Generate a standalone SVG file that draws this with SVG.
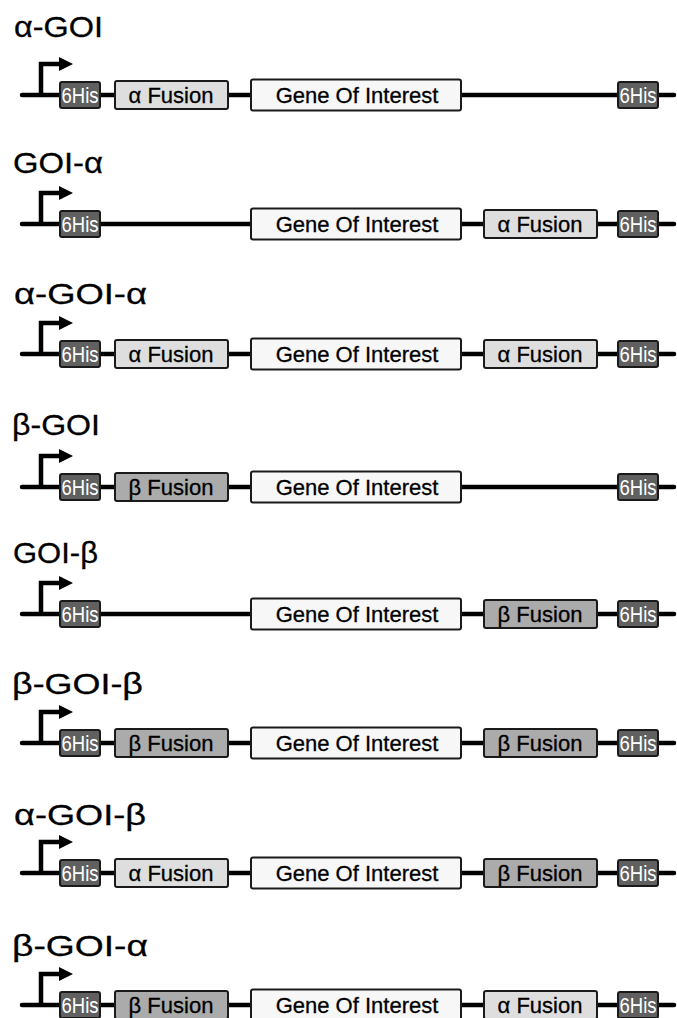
<svg xmlns="http://www.w3.org/2000/svg" xmlns:xlink="http://www.w3.org/1999/xlink" width="677" height="1018" viewBox="0 0 677 1018">
<style>
.bb{stroke:#000;stroke-width:4.5;stroke-linecap:round;fill:none}
.pr{stroke:#000;stroke-width:4.5;fill:none}
.ah{fill:#000}
.his{fill:#606060;stroke:#1a1a1a;stroke-width:2}
.af{fill:#dedede;stroke:#1a1a1a;stroke-width:2}
.bf{fill:#ababab;stroke:#1a1a1a;stroke-width:2}
.goi{fill:#f7f7f7;stroke:#1a1a1a;stroke-width:2}
.t{font-family:"Liberation Sans",Arial,sans-serif;fill:#000}
.title{font-size:30px;stroke:#000;stroke-width:0.3}
.bt{font-size:22px;text-anchor:middle;stroke:#000;stroke-width:0.3}
.ht{font-size:22px;text-anchor:middle;fill:#fff}
</style>
<defs>
<g id="prom">
<path class="pr" d="M41 0 V-31 H61"/>
<polygon class="ah" points="59,-38 73,-31 59,-24"/>
</g>
<g id="his"><rect class="his" x="0" y="-13" width="40" height="26" rx="2"/><text class="t ht" x="20" y="8" textLength="37" lengthAdjust="spacingAndGlyphs">6His</text></g>
<g id="alpha"><rect class="af" x="0" y="-14" width="113" height="28" rx="2"/><text class="t bt" x="56" y="8">α Fusion</text></g>
<g id="beta"><rect class="bf" x="0" y="-14" width="113" height="28" rx="2"/><text class="t bt" x="56" y="8">β Fusion</text></g>
<g id="gene"><rect class="goi" x="0" y="-15.5" width="210" height="31" rx="2"/><text class="t bt" x="106" y="8">Gene Of Interest</text></g>
</defs>

<g id="connectors">
<line class="bb" x1="22" y1="95" x2="674" y2="95"/>
<line class="bb" x1="22" y1="224" x2="674" y2="224"/>
<line class="bb" x1="22" y1="354" x2="674" y2="354"/>
<line class="bb" x1="22" y1="487" x2="674" y2="487"/>
<line class="bb" x1="22" y1="614" x2="674" y2="614"/>
<line class="bb" x1="22" y1="743" x2="674" y2="743"/>
<line class="bb" x1="22" y1="873" x2="674" y2="873"/>
<line class="bb" x1="22" y1="1005" x2="674" y2="1005"/>
<use xlink:href="#prom" transform="translate(0,95)"/>
<use xlink:href="#prom" transform="translate(0,224)"/>
<use xlink:href="#prom" transform="translate(0,354)"/>
<use xlink:href="#prom" transform="translate(0,487)"/>
<use xlink:href="#prom" transform="translate(0,614)"/>
<use xlink:href="#prom" transform="translate(0,743)"/>
<use xlink:href="#prom" transform="translate(0,873)"/>
<use xlink:href="#prom" transform="translate(0,1005)"/>
</g>

<g id="row1">
<text class="t title" x="14" y="37" textLength="89" lengthAdjust="spacingAndGlyphs">α-GOI</text>
<use id="r1-his1" xlink:href="#his" transform="translate(60,95)"/>
<use id="r1-fus1" xlink:href="#alpha" transform="translate(115,95)"/>
<use id="r1-goi" xlink:href="#gene" transform="translate(251,95)"/>
<use id="r1-his2" xlink:href="#his" transform="translate(618,95)"/>
</g>
<g id="row2">
<text class="t title" x="13" y="173" textLength="90" lengthAdjust="spacingAndGlyphs">GOI-α</text>
<use id="r2-his1" xlink:href="#his" transform="translate(60,224)"/>
<use id="r2-goi" xlink:href="#gene" transform="translate(251,224)"/>
<use id="r2-fus2" xlink:href="#alpha" transform="translate(484,224)"/>
<use id="r2-his2" xlink:href="#his" transform="translate(618,224)"/>
</g>
<g id="row3">
<text class="t title" x="14" y="304" textLength="133" lengthAdjust="spacingAndGlyphs">α-GOI-α</text>
<use id="r3-his1" xlink:href="#his" transform="translate(60,354)"/>
<use id="r3-fus1" xlink:href="#alpha" transform="translate(115,354)"/>
<use id="r3-goi" xlink:href="#gene" transform="translate(251,354)"/>
<use id="r3-fus2" xlink:href="#alpha" transform="translate(484,354)"/>
<use id="r3-his2" xlink:href="#his" transform="translate(618,354)"/>
</g>
<g id="row4">
<text class="t title" x="12" y="435" textLength="88" lengthAdjust="spacingAndGlyphs">β-GOI</text>
<use id="r4-his1" xlink:href="#his" transform="translate(60,487)"/>
<use id="r4-fus1" xlink:href="#beta" transform="translate(115,487)"/>
<use id="r4-goi" xlink:href="#gene" transform="translate(251,487)"/>
<use id="r4-his2" xlink:href="#his" transform="translate(618,487)"/>
</g>
<g id="row5">
<text class="t title" x="13" y="563" textLength="85" lengthAdjust="spacingAndGlyphs">GOI-β</text>
<use id="r5-his1" xlink:href="#his" transform="translate(60,614)"/>
<use id="r5-goi" xlink:href="#gene" transform="translate(251,614)"/>
<use id="r5-fus2" xlink:href="#beta" transform="translate(484,614)"/>
<use id="r5-his2" xlink:href="#his" transform="translate(618,614)"/>
</g>
<g id="row6">
<text class="t title" x="12" y="694" textLength="131" lengthAdjust="spacingAndGlyphs">β-GOI-β</text>
<use id="r6-his1" xlink:href="#his" transform="translate(60,743)"/>
<use id="r6-fus1" xlink:href="#beta" transform="translate(115,743)"/>
<use id="r6-goi" xlink:href="#gene" transform="translate(251,743)"/>
<use id="r6-fus2" xlink:href="#beta" transform="translate(484,743)"/>
<use id="r6-his2" xlink:href="#his" transform="translate(618,743)"/>
</g>
<g id="row7">
<text class="t title" x="14" y="825" textLength="132" lengthAdjust="spacingAndGlyphs">α-GOI-β</text>
<use id="r7-his1" xlink:href="#his" transform="translate(60,873)"/>
<use id="r7-fus1" xlink:href="#alpha" transform="translate(115,873)"/>
<use id="r7-goi" xlink:href="#gene" transform="translate(251,873)"/>
<use id="r7-fus2" xlink:href="#beta" transform="translate(484,873)"/>
<use id="r7-his2" xlink:href="#his" transform="translate(618,873)"/>
</g>
<g id="row8">
<text class="t title" x="12" y="956" textLength="136" lengthAdjust="spacingAndGlyphs">β-GOI-α</text>
<use id="r8-his1" xlink:href="#his" transform="translate(60,1005)"/>
<use id="r8-fus1" xlink:href="#beta" transform="translate(115,1005)"/>
<use id="r8-goi" xlink:href="#gene" transform="translate(251,1005)"/>
<use id="r8-fus2" xlink:href="#alpha" transform="translate(484,1005)"/>
<use id="r8-his2" xlink:href="#his" transform="translate(618,1005)"/>
</g>
</svg>
